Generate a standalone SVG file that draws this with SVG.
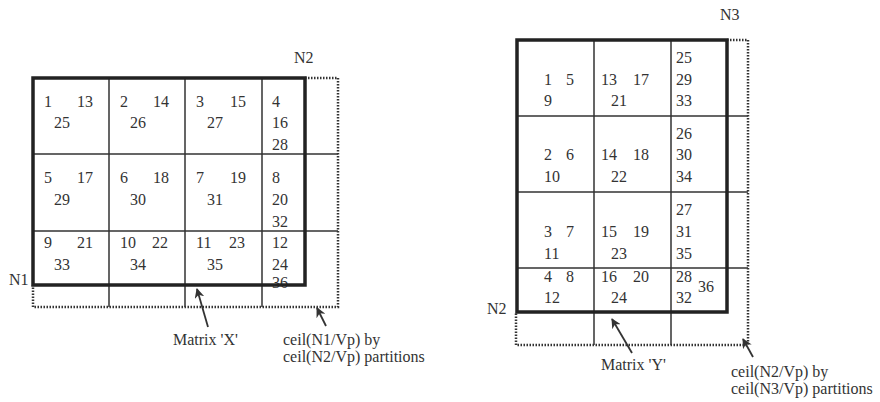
<svg xmlns="http://www.w3.org/2000/svg" width="880" height="402" viewBox="0 0 880 402">
<defs>
<style>
text{font-family:"Liberation Serif","Times New Roman",serif;font-size:16px;fill:#333}
.thick{fill:none;stroke:#222;stroke-width:3.5}
.grid{stroke:#333;stroke-width:1.5;fill:none}
.dot{fill:none;stroke:#333;stroke-width:2.5;stroke-dasharray:1.5 1.5}
.arr{stroke:#333;stroke-width:1.8;fill:none;marker-end:url(#ah)}
</style>
<marker id="ah" viewBox="0 0 10 10" refX="9" refY="5" markerWidth="10" markerHeight="10" orient="auto" markerUnits="userSpaceOnUse">
<path d="M0,0 L10,5 L0,10 L3,5 z" fill="#333"/>
</marker>
</defs>
<rect width="880" height="402" fill="#fff"/>

<g id="matrixX">
<path class="dot" d="M305,78 H338 V307 H33 V285"/>
<path class="grid" d="M109,78 V307 M185,78 V307 M262,78 V307 M33,154 H338 M33,231 H338"/>
<g id="x-cells">
<text x="44" y="107">1</text><text x="77" y="107">13</text><text x="54" y="128">25</text>
<text x="120" y="107">2</text><text x="153" y="107">14</text><text x="130" y="128">26</text>
<text x="196" y="107">3</text><text x="230" y="107">15</text><text x="207" y="128">27</text>
<text x="272" y="107">4</text><text x="272" y="128">16</text><text x="272" y="150">28</text>
<text x="44" y="183">5</text><text x="77" y="183">17</text><text x="54" y="205">29</text>
<text x="120" y="183">6</text><text x="153" y="183">18</text><text x="130" y="205">30</text>
<text x="196" y="183">7</text><text x="230" y="183">19</text><text x="207" y="205">31</text>
<text x="272" y="183">8</text><text x="272" y="205">20</text><text x="272" y="227">32</text>
<text x="44" y="248">9</text><text x="77" y="248">21</text><text x="54" y="270">33</text>
<text x="120" y="248">10</text><text x="152" y="248">22</text><text x="130" y="270">34</text>
<text x="196" y="248">11</text><text x="229" y="248">23</text><text x="207" y="270">35</text>
<text x="272" y="248">12</text><text x="272" y="270">24</text><text x="272" y="288" fill="#666">36</text>
</g>
<rect class="thick" x="33" y="78" width="272" height="207"/>
<text x="294" y="63">N2</text>
<text x="9" y="285">N1</text>
</g>

<g id="matrixY">
<path class="dot" d="M727,40 H748 V345 H516 V312"/>
<path class="grid" d="M594,40 V345 M671,40 V345 M517,116 H748 M517,192 H748 M517,268 H748"/>
<g id="y-cells">
<text x="544" y="85">1</text><text x="566" y="85">5</text><text x="544" y="106">9</text>
<text x="601" y="85">13</text><text x="633" y="85">17</text><text x="611" y="106">21</text>
<text x="676" y="63">25</text><text x="676" y="85">29</text><text x="676" y="106">33</text>
<text x="544" y="160">2</text><text x="566" y="160">6</text><text x="544" y="182">10</text>
<text x="601" y="160">14</text><text x="633" y="160">18</text><text x="611" y="182">22</text>
<text x="676" y="139">26</text><text x="676" y="160">30</text><text x="676" y="182">34</text>
<text x="544" y="237">3</text><text x="566" y="237">7</text><text x="544" y="259">11</text>
<text x="601" y="237">15</text><text x="633" y="237">19</text><text x="611" y="259">23</text>
<text x="676" y="215">27</text><text x="676" y="237">31</text><text x="676" y="259">35</text>
<text x="544" y="282">4</text><text x="566" y="282">8</text><text x="544" y="303">12</text>
<text x="601" y="282">16</text><text x="633" y="282">20</text><text x="611" y="303">24</text>
<text x="676" y="282">28</text><text x="676" y="303">32</text><text x="698" y="292">36</text>
</g>
<rect class="thick" x="517" y="40" width="210" height="272"/>
<text x="720" y="20">N3</text>
<text x="487" y="314">N2</text>
</g>

<g id="connectors">
<line class="arr" x1="208" y1="327" x2="197" y2="289"/>
<line class="arr" x1="326" y1="326" x2="317" y2="308"/>
<line class="arr" x1="632" y1="353" x2="612" y2="319"/>
<line class="arr" x1="753" y1="357" x2="743" y2="339"/>
</g>

<g id="labels">
<text x="173" y="345">Matrix 'X'</text>
<text x="283" y="345">ceil(N1/Vp) by</text>
<text x="283" y="362">ceil(N2/Vp) partitions</text>
<text x="601" y="370">Matrix 'Y'</text>
<text x="731" y="377">ceil(N2/Vp) by</text>
<text x="731" y="394">ceil(N3/Vp) partitions</text>
</g>
</svg>
